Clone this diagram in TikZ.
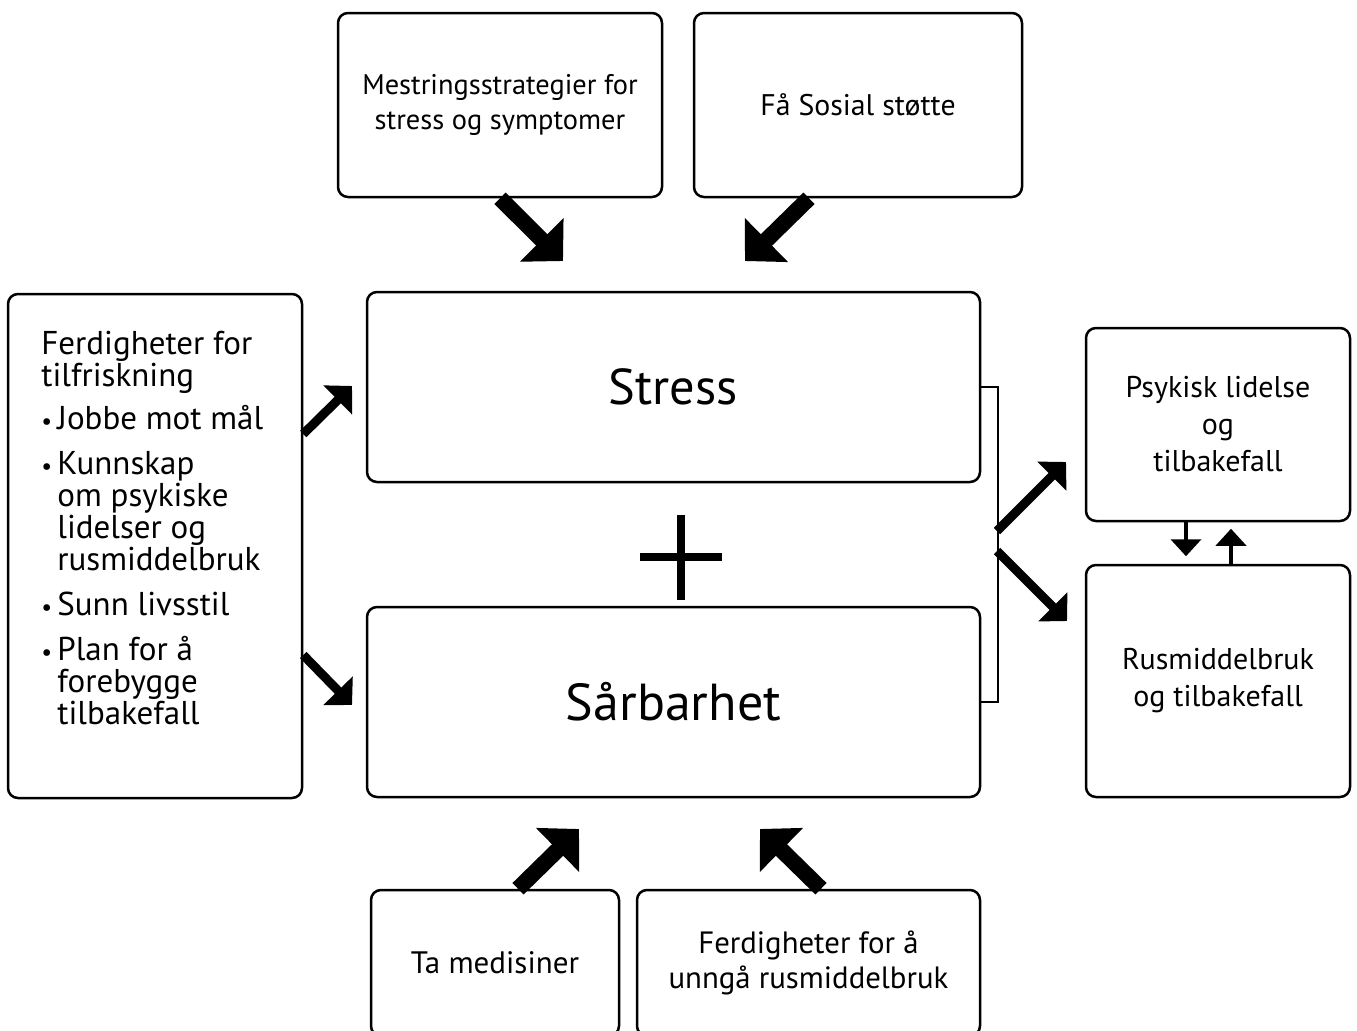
\documentclass[tikz,border=0pt]{standalone}
\usepackage{fontspec}
\setmainfont{PT Sans}
\usetikzlibrary{arrows.meta,calc}
\tikzset{box/.style={draw,line width=1.25pt,rounded corners=5pt,align=center,inner sep=0pt},
  big/.style={line width=8pt,-{Triangle[length=15pt,width=30pt]}},
  mid/.style={line width=4.5pt,-{Triangle[length=10pt,width=20pt]}},
  sml/.style={line width=2pt,-{Triangle[length=8.5pt,width=15pt]}},
  brk/.style={line width=1pt}}
\newcommand{\lbul}{\makebox[8pt][l]{\fontsize{12}{12}\selectfont\textbullet}}
\newcommand{\lind}{\hspace*{8pt}}
\begin{document}
\begin{tikzpicture}[x=0.5pt,y=-0.5pt]
\path[use as bounding box,clip](0,0)rectangle(1357,1030);
% top
\node[box,minimum width=162pt,minimum height=92pt,font=\fontsize{14.2}{17.5}\selectfont](mest)at(500,105){Mestringsstrategier for\\stress og symptomer};
\node[box,minimum width=164pt,minimum height=92pt,font=\fontsize{14.9}{17.5}\selectfont](sosial)at(858,105){Få Sosial støtte};
% middle
\node[box,minimum width=306.5pt,minimum height=95pt,font=\fontsize{25.2}{30}\selectfont](stress)at(673.5,387){Stress};
\node[box,minimum width=306.5pt,minimum height=95pt,font=\fontsize{26}{30}\selectfont](sarb)at(673.5,702){Sårbarhet};
\draw[line width=4pt](640,557)--(722,557)(681,515)--(681,600);
% left
\node[box,minimum width=147pt,minimum height=252pt](recov)at(155,546){};
\node[align=left,inner sep=0pt,anchor=north west,font=\fontsize{16.5}{16}\selectfont](recovtxt)at(41,331){Ferdigheter for\\tilfriskning\\[5.5pt]
\lbul Jobbe mot mål\\[6.5pt]
\lbul Kunnskap\\\lind om psykiske\\\lind lidelser og\\\lind rusmiddelbruk\\[6.5pt]
\lbul Sunn livsstil\\[6.5pt]
\lbul Plan for å\\\lind forebygge\\\lind tilbakefall};
% right
\node[box,minimum width=132pt,minimum height=96.5pt,font=\fontsize{15}{18.5}\selectfont](psyk)at(1218,424.5){Psykisk lidelse\\og\\tilbakefall};
\node[box,minimum width=132pt,minimum height=116pt,font=\fontsize{15}{18.5}\selectfont](rus)at(1218,681){Rusmiddelbruk\\og tilbakefall};
% bottom
\node[box,minimum width=124pt,minimum height=73pt,font=\fontsize{15.5}{17.5}\selectfont](med)at(495,963){Ta medisiner};
\node[box,minimum width=171.5pt,minimum height=73pt,font=\fontsize{15.4}{17.5}\selectfont](unnga)at(808.5,963){Ferdigheter for å\\unngå rusmiddelbruk};
% arrows
\draw[brk](stress.east)--++(17,0)|-(sarb.east);
\coordinate(t1)at(563,261);\coordinate(t2)at(745,261);
\coordinate(t3)at(579,829);\coordinate(t4)at(760,829);
\coordinate(t5)at(352,386);\coordinate(t6)at(352,705);
\coordinate(b7)at(997,531);\coordinate(t7)at(1066,462);
\coordinate(b8)at(997,551);\coordinate(t8)at(1067,621);
\draw[big](mest.south)--(t1);
\draw[big]($(sosial.south)+(-49,0)$)--(t2);
\draw[big]($(med.north)+(23,0)$)--(t3);
\draw[big]($(unnga.north)+(12.5,0)$)--(t4);
\draw[mid](recov.east|-0,434)--(t5);
\draw[mid](recov.east|-0,655)--(t6);
\draw[mid](b7)--(t7);
\draw[mid](b8)--(t8);
\draw[sml](psyk.south-|1186,0)--++(0,34);
\draw[sml](rus.north-|1231,0)--++(0,-35);
\end{tikzpicture}
\end{document}
